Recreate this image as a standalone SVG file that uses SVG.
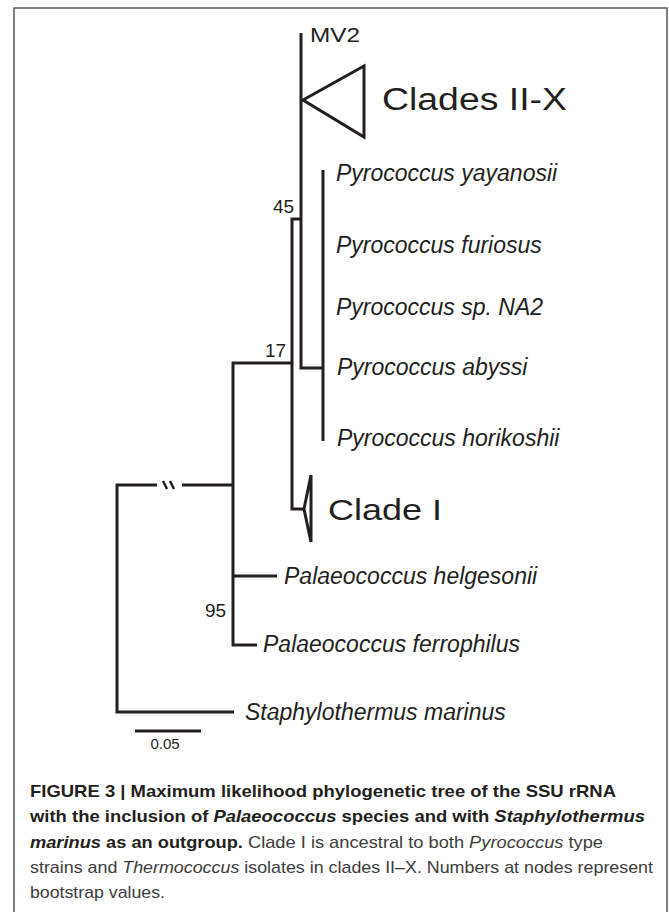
<svg xmlns="http://www.w3.org/2000/svg" width="669" height="912" viewBox="0 0 669 912">
<style>
.br{fill:none;stroke:#231f20;stroke-width:3;stroke-linejoin:miter;stroke-linecap:butt}
.lab{font-family:"Liberation Sans",Arial,sans-serif;font-style:italic;font-size:23px;fill:#231f20}
.big{font-family:"Liberation Sans",Arial,sans-serif;fill:#231f20}
.num{font-family:"Liberation Sans",Arial,sans-serif;font-size:19px;fill:#231f20}
.cap{font-family:"Liberation Sans",Arial,sans-serif;font-size:17px;fill:#3c3c3c}
.b{font-weight:bold;fill:#231f20}
.i{font-style:italic}
</style>
<rect x="14" y="8" width="653" height="920" fill="#fff" stroke="#555" stroke-width="1.5"/>
<g id="connectors">
<path class="br" d="M301,33 V368 H323"/>
<path class="br" d="M323,170 V441"/>
<path class="br" d="M301,219 H292 V509 H304"/>
<path class="br" d="M292,363 H233 V645 H257"/>
<path class="br" d="M233,576 H277"/>
<path class="br" d="M157,485 H117 V712 H234"/>
<path class="br" d="M182,485 H233"/>
<path class="br" d="M135,731 H201"/>
<path d="M163,481 L167,489 M170,481 L174,489" stroke="#231f20" stroke-width="2.5" fill="none"/>
</g>
<g id="mv2"><text class="big" x="310" y="42" font-size="21" textLength="50" lengthAdjust="spacingAndGlyphs">MV2</text></g>
<g id="clades-ii-x">
<path class="br" d="M364,66 L303,100 L364,137 Z"/>
<text class="big" x="382" y="110" font-size="31" textLength="185" lengthAdjust="spacingAndGlyphs">Clades II-X</text>
</g>
<g id="p-yayanosii"><text class="lab" x="336" y="181">Pyrococcus yayanosii</text></g>
<g id="p-furiosus"><text class="lab" x="336" y="253">Pyrococcus furiosus</text></g>
<g id="p-na2"><text class="lab" x="336" y="315">Pyrococcus sp. NA2</text></g>
<g id="p-abyssi"><text class="lab" x="337" y="375">Pyrococcus abyssi</text></g>
<g id="p-horikoshii"><text class="lab" x="337" y="446">Pyrococcus horikoshii</text></g>
<g id="clade-i">
<path class="br" d="M304,509 L311,475 L311,542 Z"/>
<text class="big" x="328" y="520" font-size="29" textLength="114" lengthAdjust="spacingAndGlyphs">Clade I</text>
</g>
<g id="pal-helgesonii"><text class="lab" x="284" y="584">Palaeococcus helgesonii</text></g>
<g id="pal-ferrophilus"><text class="lab" x="263" y="652">Palaeococcus ferrophilus</text></g>
<g id="staph"><text class="lab" x="245" y="720">Staphylothermus marinus</text></g>
<g id="node-45"><text class="num" x="273" y="213">45</text></g>
<g id="node-17"><text class="num" x="265" y="357">17</text></g>
<g id="node-95"><text class="num" x="205" y="617">95</text></g>
<g id="scale"><text class="big" x="165" y="749" font-size="15" text-anchor="middle">0.05</text></g>
<g id="caption">
<text class="cap" x="30" y="797" textLength="586" lengthAdjust="spacingAndGlyphs"><tspan class="b">FIGURE 3 | Maximum likelihood phylogenetic tree of the SSU rRNA</tspan></text>
<text class="cap" x="30" y="822" textLength="615" lengthAdjust="spacingAndGlyphs"><tspan class="b">with the inclusion of </tspan><tspan class="b i">Palaeococcus</tspan><tspan class="b"> species and with </tspan><tspan class="b i">Staphylothermus</tspan></text>
<text class="cap" x="30" y="848" textLength="573" lengthAdjust="spacingAndGlyphs"><tspan class="b i">marinus</tspan><tspan class="b"> as an outgroup.</tspan> Clade I is ancestral to both <tspan class="i">Pyrococcus</tspan> type</text>
<text class="cap" x="30" y="873" textLength="623" lengthAdjust="spacingAndGlyphs">strains and <tspan class="i">Thermococcus</tspan> isolates in clades II–X. Numbers at nodes represent</text>
<text class="cap" x="30" y="898" textLength="135" lengthAdjust="spacingAndGlyphs">bootstrap values.</text>
</g>
</svg>
